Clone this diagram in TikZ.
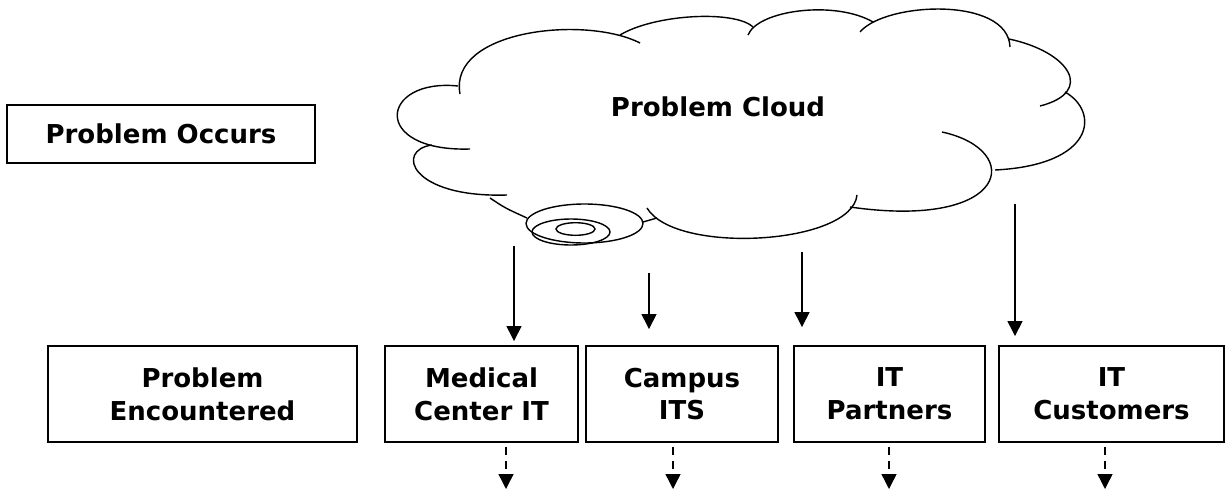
\documentclass[tikz,border=0pt]{standalone}
\usepackage{fontspec}
\setmainfont{DejaVu Sans}
\usetikzlibrary{arrows.meta}
\tikzset{
  >={Triangle[length=8.5pt,width=8.5pt]},
}
\tikzstyle{every node}=[font=\fontsize{14.8}{18.7}\selectfont\bfseries]
\tikzstyle{box}=[draw,line width=1.1pt,inner sep=0pt,align=center,minimum height=1.92cm]
\tikzstyle{lobe}=[line width=0.8pt]
\tikzstyle{flow}=[line width=0.8pt,->]
\tikzstyle{next}=[line width=0.8pt,->,dash pattern=on 4.5pt off 3.4pt]

\begin{document}
\begin{tikzpicture}[x=0.02cm,y=-0.02cm]
    \useasboundingbox (0,0) rectangle (1226,497);
    % row of boxes
    \node[box,minimum width=6.16cm,minimum height=1.16cm] (occurs) at (161,134) {Problem Occurs};
    \node[box,minimum width=6.18cm] (found) at (202.5,394) {Problem\\Encountered};
    \node[box,minimum width=3.86cm] (med) at (481.5,394) {Medical\\Center IT};
    \node[box,minimum width=3.84cm] (campus) at (682,394) {Campus\\ITS};
    \node[box,minimum width=3.82cm] (partners) at (889.5,394) {IT\\Partners};
    \node[box,minimum width=4.5cm] (customers) at (1111.5,394) {IT\\Customers};
    % the cloud
    \node (cloud) at (718,107) {Problem Cloud};
    \draw[lobe] (460,94) .. controls (448,30) and (585,15) .. (640,43);
    \draw[lobe] (620,35) .. controls (655,14) and (735,10) .. (753,27);
    \draw[lobe] (748,35) .. controls (758,10) and (835,0) .. (873,22);
    \draw[lobe] (860,32) .. controls (885,2) and (1008,-4) .. (1010,47);
    \draw[lobe] (1009,39) .. controls (1070,52) and (1095,92) .. (1040,106);
    \draw[lobe] (1065,92) .. controls (1100,112) and (1095,165) .. (995,170);
    \draw[lobe] (942,132) .. controls (1025,150) and (1010,230) .. (850,207);
    \draw[lobe] (857,195) .. controls (852,245) and (675,255) .. (647,208);
    \draw[lobe] (490,198) .. controls (505,208) .. (527,218);
    \draw[lobe] (432,145) .. controls (395,150) and (410,198) .. (507,195);
    \draw[lobe] (458,86) .. controls (380,78) and (370,152) .. (470,149);
    \draw[lobe] (584.5,223.5) ellipse [x radius=1.17cm, y radius=0.39cm];
    \draw[lobe] (571,232) ellipse [x radius=0.78cm, y radius=0.26cm];
    \draw[lobe] (575.5,229) ellipse [x radius=0.39cm, y radius=0.126cm];
    \draw[lobe] (643,222) -- (657,218);
    % arrows down from the cloud
    \coordinate (medfrom) at (514,246);
    \coordinate (campusfrom) at (649,273);
    \coordinate (partnersfrom) at (802,252);
    \coordinate (customersfrom) at (1015,204);
    \draw[flow,shorten >=0.08cm] (medfrom) -- (med.north -| medfrom);
    \draw[flow,shorten >=0.32cm] (campusfrom) -- (campus.north -| campusfrom);
    \draw[flow,shorten >=0.36cm] (partnersfrom) -- (partners.north -| partnersfrom);
    \draw[flow,shorten >=0.18cm] (customersfrom) -- (customers.north -| customersfrom);
    % dashed arrows out of the boxes
    \coordinate (medto) at (506,489);
    \coordinate (campusto) at (673,489);
    \coordinate (partnersto) at (889,489);
    \coordinate (customersto) at (1105,489);
    \draw[next,shorten <=0.08cm] (med.south -| medto) -- (medto);
    \draw[next,shorten <=0.08cm] (campus.south -| campusto) -- (campusto);
    \draw[next,shorten <=0.08cm] (partners.south -| partnersto) -- (partnersto);
    \draw[next,shorten <=0.08cm] (customers.south -| customersto) -- (customersto);
\end{tikzpicture}
\end{document}
